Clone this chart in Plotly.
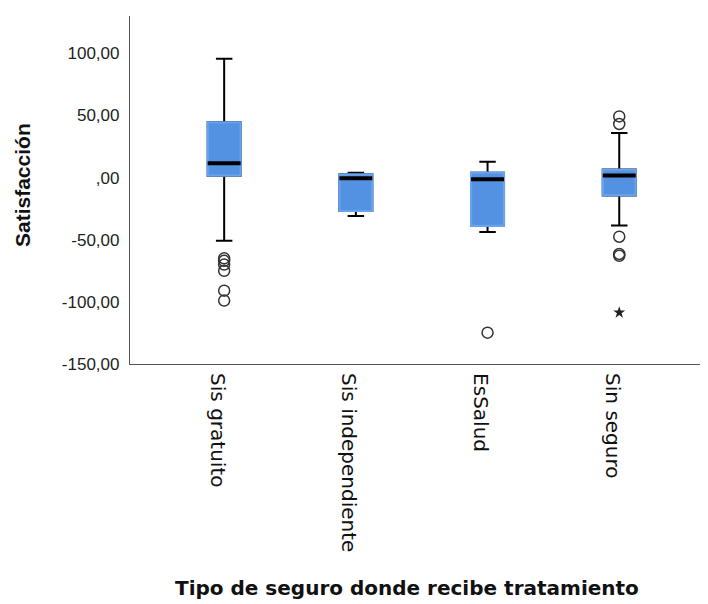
import plotly.graph_objects as go

categories = ["Sis gratuito", "Sis independiente", "EsSalud", "Sin seguro"]
q1 = [1.5, -26.9, -38.9, -14.4]
median = [11.5, -0.6, -1.4, 1.6]
q3 = [44.5, 2.6, 3.9, 6.4]
lowerfence = [-50.8, -30.9, -43.8, -38.5]
upperfence = [95.7, 3.9, 12.8, 35.8]
outliers = [[-65, -67, -70, -75, -91, -99], [], [-124.8], [49.2, 43.1, -47.6, -61.5, -63]]
extremes = [[], [], [], [-108.6]]
yticks = [100, 50, 0, -50, -100, -150]
yticklabels = ["100,00", "50,00", ",00", "-50,00", "-100,00", "-150,00"]

BLUE = "#5392e2"
EDGE = "#6aa3ec"
BOXW = 0.25

fig = go.Figure()
for i, c in enumerate(categories):
    # whiskers (black)
    fig.add_trace(go.Box(
        x=[i], q1=[q1[i]], median=[median[i]], q3=[q3[i]],
        lowerfence=[lowerfence[i]], upperfence=[upperfence[i]],
        width=BOXW, whiskerwidth=0.5, boxpoints=False,
        line=dict(color="black", width=2), fillcolor=BLUE, name=c,
        hoverinfo="skip"))
    # box body (blue, covers black outline)
    fig.add_trace(go.Box(
        x=[i], q1=[q1[i]], median=[median[i]], q3=[q3[i]],
        lowerfence=[q1[i]], upperfence=[q3[i]],
        width=BOXW, whiskerwidth=0, boxpoints=False,
        line=dict(color=EDGE, width=2.2), fillcolor=BLUE, name=c,
        hoverinfo="skip"))

# medians
mx, my = [], []
for i, m in enumerate(median):
    mx += [i - BOXW / 2, i + BOXW / 2, None]
    my += [m, m, None]
fig.add_trace(go.Scatter(x=mx, y=my, mode="lines",
                         line=dict(color="black", width=4), hoverinfo="skip"))

# outliers
ox, oy = [], []
for i, vals in enumerate(outliers):
    ox += [i] * len(vals)
    oy += vals
fig.add_trace(go.Scatter(x=ox, y=oy, mode="markers",
                         marker=dict(symbol="circle-open", size=11, color="#333",
                                     line=dict(width=1.5, color="#333"))))
ex, ey = [], []
for i, vals in enumerate(extremes):
    ex += [i] * len(vals)
    ey += vals
fig.add_trace(go.Scatter(x=ex, y=ey, mode="markers",
                         marker=dict(symbol="star", size=9, color="#222")))

# page body has an 8px margin: the figure is 8px smaller and its layout shifted
fig.update_layout(
    width=700, height=596,
    margin=dict(l=122, r=0, t=8, b=240),
    paper_bgcolor="white", plot_bgcolor="white",
    showlegend=False, boxmode="overlay",
    xaxis=dict(range=[-0.715, 3.674], tickvals=[0, 1, 2, 3], ticktext=categories,
               tickangle=90, tickfont=dict(family="DejaVu Sans", size=20, color="#111"),
               showline=True, linecolor="#555", linewidth=1.2, showgrid=False,
               zeroline=False, ticks="", ticklabelstandoff=4, ticklabelshift=-7),
    yaxis=dict(range=[-150, 130], tickvals=yticks, ticktext=yticklabels,
               tickfont=dict(family="Liberation Sans", size=17, color="#222"),
               showline=True, linecolor="#555", linewidth=1.2, showgrid=False,
               zeroline=False, ticks="", ticklabelstandoff=6),
    annotations=[
        dict(text="Satisfacción", textangle=-90, xref="paper", yref="paper",
             x=(22 - 130) / 578, y=(364 - 185) / 348, xanchor="center", yanchor="middle",
             showarrow=False, font=dict(family="Liberation Sans", size=21, color="#111", weight="bold")),
        dict(text="Tipo de seguro donde recibe tratamiento", xref="paper", yref="paper",
             x=(406.5 - 130) / 578, y=(364 - 588) / 348, xanchor="center", yanchor="middle",
             showarrow=False, font=dict(family="DejaVu Sans", size=20, color="#111", weight="bold")),
    ],
)

fig.write_html("out.html")
